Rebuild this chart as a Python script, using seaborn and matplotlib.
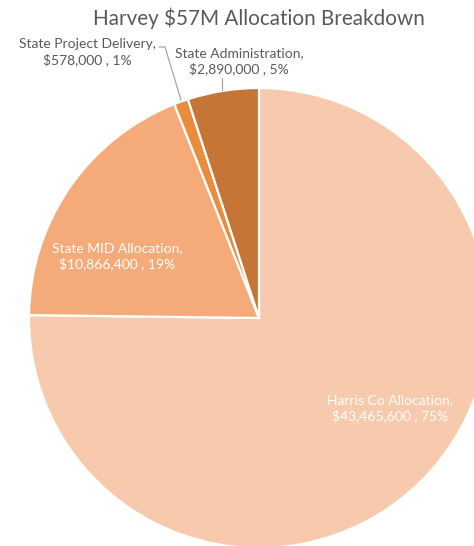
import matplotlib
matplotlib.use("Agg")
import matplotlib.pyplot as plt
import seaborn as sns

sns.set_theme(style="white")
plt.rcParams['font.family'] = ['Lato', 'DejaVu Sans']

categories = ["Harris Co Allocation", "State MID Allocation", "State Project Delivery", "State Administration"]
values = [43465600, 10866400, 578000, 2890000]
percents = ["75%", "19%", "1%", "5%"]
colors = ["#F8CAAD", "#F5AA79", "#E98C3D", "#C57536"]

W, H = 474, 546
CX, CY, R = 259, 318, 230

fig = plt.figure(figsize=(W / 100, H / 100), dpi=100)
ax = fig.add_axes([0, 0, 1, 1])
ax.pie(values, colors=colors, startangle=90, counterclock=False,
       wedgeprops=dict(edgecolor="white", linewidth=1.6), radius=1)
ax.set_xlim(-CX / R, (W - CX) / R)
ax.set_ylim(-(H - CY) / R, CY / R)
ax.set_aspect("auto")
ax.axis("off")

def px(x, y):
    return (x - CX) / R, (CY - y) / R

labels_txt = [f"{c},\n${v:,} , {p}" for c, v, p in zip(categories, values, percents)]
pos = [(390, 408), (117, 256), (87, 52), (239, 61)]
tcol = ["white", "white", "#595959", "#595959"]
for t, (x, y), c in zip(labels_txt, pos, tcol):
    ax.text(*px(x, y), t, ha="center", va="center", fontsize=10, color=c, linespacing=1.3)

gray = "#A6A6A6"
ax.plot(*zip(px(159, 47), px(165, 47), px(181, 100)), color=gray, lw=0.9)
ax.plot(*zip(px(222, 78), px(222, 90)), color=gray, lw=0.9)

ax.text(*px(259, 18), "Harvey $57M Allocation Breakdown", ha="center", va="center",
        fontsize=14.9, color="#595959")

fig.savefig("out.png", dpi=100)
